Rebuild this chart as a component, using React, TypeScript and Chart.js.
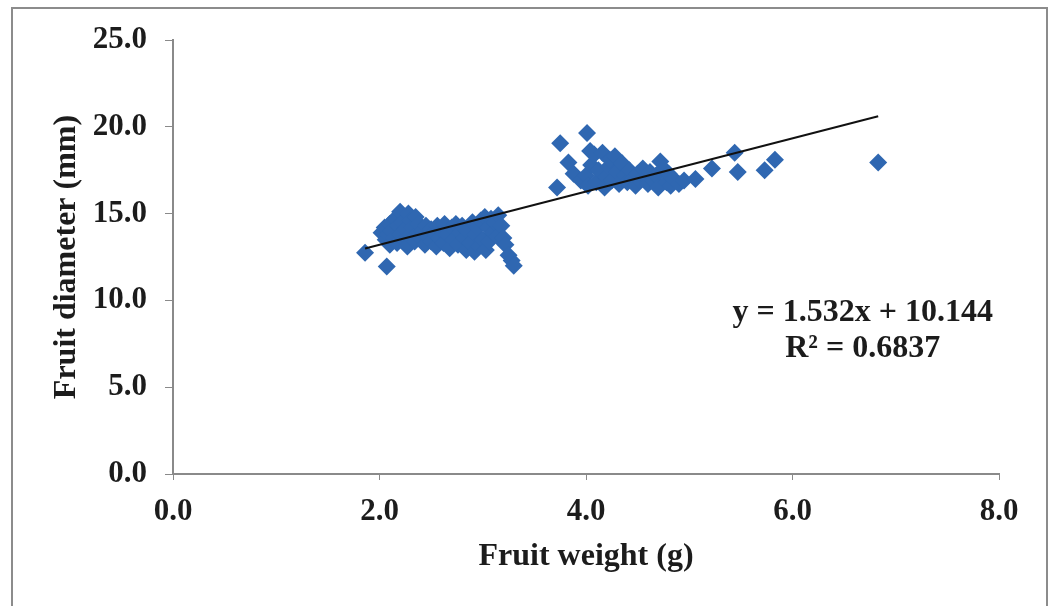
import React, { useEffect, useRef } from "react";
import { Chart, registerables } from "chart.js";

Chart.register(...registerables);

const fruitWeight: number[] = [
  1.86, 2.07, 2.02, 2.05, 2.06, 2.08, 2.10, 2.10, 2.12, 2.14, 2.15, 2.17, 2.18, 2.20, 2.20,
  2.22, 2.24, 2.25, 2.27, 2.28, 2.30, 2.30, 2.32, 2.34, 2.35, 2.37, 2.38, 2.40, 2.42, 2.44,
  2.45, 2.47, 2.50, 2.50, 2.52, 2.55, 2.56, 2.58, 2.60, 2.62, 2.63, 2.65, 2.68, 2.70, 2.72,
  2.74, 2.76, 2.78, 2.80, 2.82, 2.84, 2.85, 2.88, 2.90, 2.92, 2.93, 2.95, 2.96, 2.98, 3.00,
  3.02, 3.03, 3.05, 3.06, 3.08, 3.10, 3.12, 3.14, 3.15, 3.18, 3.20, 3.22, 3.25, 3.28, 3.30,
  3.72, 3.75, 3.83, 3.88, 4.01, 3.95, 4.00, 4.02, 4.04, 4.05, 4.08, 4.10, 4.12, 4.16, 4.18,
  4.20, 4.22, 4.23, 4.25, 4.28, 4.30, 4.32, 4.35, 4.38, 4.40, 4.42, 4.45, 4.48, 4.50, 4.52,
  4.55, 4.58, 4.60, 4.62, 4.65, 4.68, 4.70, 4.72, 4.75, 4.78, 4.80, 4.82, 4.85, 4.90, 4.95,
  5.06, 5.22, 5.44, 5.47, 5.73, 5.83, 6.83,
];

const fruitDiameter: number[] = [
  12.75, 11.95, 13.9, 14.2, 13.5, 13.8, 14.4, 13.2, 14.0, 13.6, 14.7, 13.3, 14.3, 15.1, 13.8,
  14.5, 13.5, 14.1, 13.1, 15.0, 13.8, 14.6, 14.2, 13.4, 14.8, 13.9, 14.4, 13.6, 14.0, 13.2,
  14.3, 13.7, 13.4, 14.1, 13.9, 13.1, 14.3, 13.6, 14.0, 13.3, 14.4, 13.8, 13.0, 14.2, 13.5,
  14.4, 13.2, 13.9, 14.3, 13.6, 12.9, 14.0, 13.3, 14.5, 12.8, 13.8, 14.2, 13.1, 14.6, 13.5,
  14.8, 12.9, 14.2, 13.4, 14.7, 13.9, 14.5, 13.7, 14.9, 14.3, 13.6, 13.2, 12.6, 12.3, 12.0,
  16.5, 19.05, 17.95, 17.3, 19.65, 16.9, 17.2, 16.6, 18.6, 17.8, 18.4, 16.8, 17.5, 18.5, 16.5,
  17.1, 17.7, 18.1, 16.9, 18.3, 17.4, 16.7, 17.9, 17.2, 16.8, 17.5, 17.0, 16.6, 17.3, 16.9,
  17.6, 17.1, 16.7, 17.4, 16.9, 17.2, 16.5, 18.0, 17.6, 16.8, 17.3, 16.6, 17.0, 16.7, 16.9,
  17.0, 17.6, 18.5, 17.4, 17.5, 18.1, 17.95,
];

const trendSlope = 1.532;
const trendIntercept = 10.144;
const equationLines: string[] = ["y = 1.532x + 10.144", "R\u00B2 = 0.6837"];

const xTicks: number[] = [0, 2, 4, 6, 8];
const yTicks: number[] = [0, 5, 10, 15, 20, 25];

const FONT = '"Liberation Serif", "Times New Roman", serif';
const TEXT = "#1c1c1c";
const AXIS = "#8a8a8a";

export default function App() {
  const ref = useRef<HTMLCanvasElement | null>(null);

  useEffect(() => {
    if (!ref.current) return;
    const pts = fruitWeight.map((x, i) => ({ x, y: fruitDiameter[i] }));
    const xmin = Math.min(...fruitWeight);
    const xmax = Math.max(...fruitWeight);
    const trend = [
      { x: xmin, y: trendSlope * xmin + trendIntercept },
      { x: xmax, y: trendSlope * xmax + trendIntercept },
    ];

    const framePlugin = {
      id: "frame",
      beforeDraw(chart: any) {
        const c = chart.ctx;
        c.save();
        c.fillStyle = "#ffffff";
        c.fillRect(0, 0, chart.width, chart.height);
        c.strokeStyle = "#8c8c8c";
        c.lineWidth = 2;
        c.strokeRect(12, 8, 1035, 700);
        c.restore();
      },
      afterDraw(chart: any) {
        const c = chart.ctx;
        const xs = chart.scales.x;
        const ys = chart.scales.y;
        c.save();
        c.fillStyle = TEXT;
        c.font = `bold 32px ${FONT}`;
        c.textAlign = "center";
        c.textBaseline = "alphabetic";
        const cx = xs.getPixelForValue(6.68);
        c.fillText(equationLines[0], cx, ys.getPixelForValue(8.8));
        c.fillText(equationLines[1], cx, ys.getPixelForValue(6.74));
        c.restore();
      },
    };

    const chart = new Chart(ref.current, {
      type: "scatter",
      data: {
        datasets: [
          {
            label: "Fruit",
            data: pts,
            pointStyle: "rectRot",
            pointRadius: 9,
            pointBackgroundColor: "#2f67b1",
            pointBorderColor: "#2f67b1",
            pointBorderWidth: 0,
            order: 2,
          } as any,
          {
            label: "Trend",
            type: "line",
            data: trend,
            borderColor: "#111111",
            borderWidth: 2,
            pointRadius: 0,
            fill: false,
            order: 1,
          } as any,
        ],
      },
      options: {
        animation: false,
        responsive: false,
        layout: { padding: { left: 0, right: 53, top: 40, bottom: 0 } },
        plugins: { legend: { display: false }, tooltip: { enabled: false } },
        scales: {
          x: {
            type: "linear",
            min: 0,
            max: 8,
            afterFit: (s: any) => {
              s.height = 132;
            },
            afterBuildTicks: (s: any) => {
              s.ticks = xTicks.map((v) => ({ value: v }));
            },
            ticks: {
              padding: 13,
              color: TEXT,
              font: { family: FONT, size: 31, weight: "bold", lineHeight: 1.2 },
              callback: (v: any) => Number(v).toFixed(1),
            },
            grid: { drawOnChartArea: false, drawTicks: true, tickLength: 6, color: AXIS, lineWidth: 1 },
            border: { display: true, color: AXIS, width: 2 },
            title: {
              display: true,
              text: "Fruit weight (g)",
              color: TEXT,
              font: { family: FONT, size: 32, weight: "bold", lineHeight: 1.2 },
              padding: { top: 0, bottom: 30 },
            },
          },
          y: {
            type: "linear",
            min: 0,
            max: 25,
            afterFit: (s: any) => {
              s.width = 173;
            },
            afterBuildTicks: (s: any) => {
              s.ticks = yTicks.map((v) => ({ value: v }));
            },
            ticks: {
              padding: 18,
              color: TEXT,
              font: { family: FONT, size: 31, weight: "bold", lineHeight: 1.2 },
              callback: (v: any) => Number(v).toFixed(1),
            },
            grid: { drawOnChartArea: false, drawTicks: true, tickLength: 8, color: AXIS, lineWidth: 1 },
            border: { display: true, color: AXIS, width: 2 },
            title: {
              display: true,
              text: "Fruit diameter (mm)",
              color: TEXT,
              font: { family: FONT, size: 32, weight: "bold", lineHeight: 1.2 },
              padding: { top: 48, bottom: 0 },
            },
          },
        },
      },
      plugins: [framePlugin],
    });
    return () => chart.destroy();
  }, []);

  return (
    <div style={{ position: "fixed", left: 0, top: 0, width: 1052, height: 606, background: "#fff" }}>
      <canvas ref={ref} width={1052} height={606} style={{ display: "block", width: 1052, height: 606 }} />
    </div>
  );
}
